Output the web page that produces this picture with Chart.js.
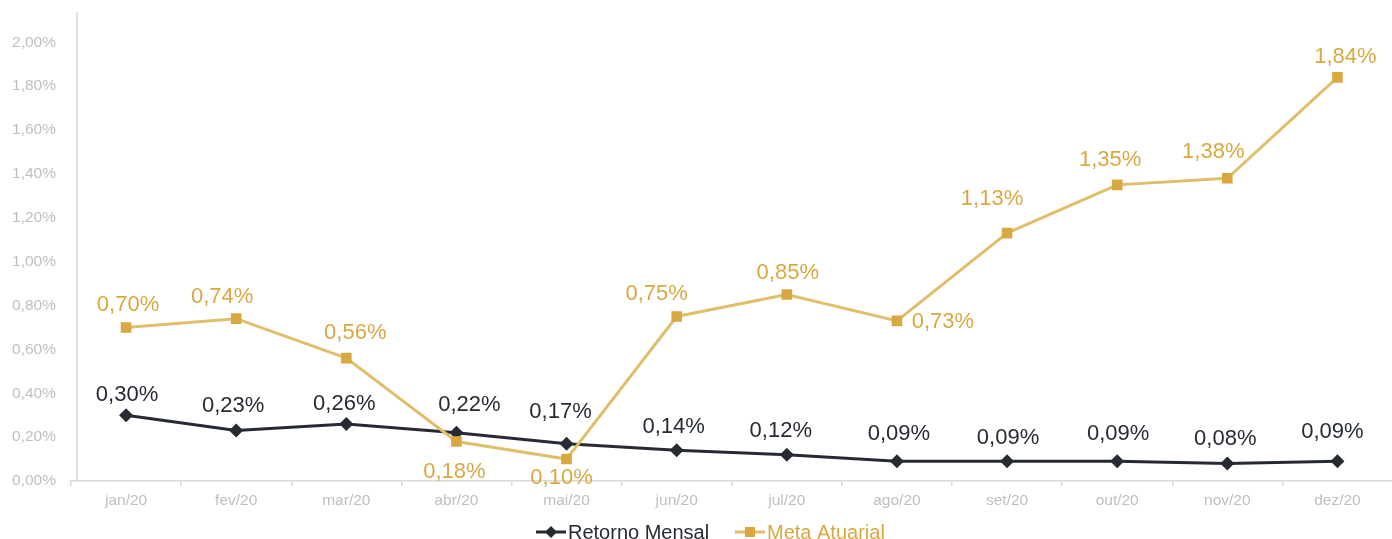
<!DOCTYPE html>
<html><head><meta charset="utf-8">
<script src="https://cdn.jsdelivr.net/npm/chart.js@4/dist/chart.umd.min.js"></script>
<style>
html,body{margin:0;padding:0;background:#fff;overflow:hidden;}
#c{position:absolute;left:0;top:0;width:1400px;height:539px;}
</style></head>
<body><canvas id="c" width="1400" height="539"></canvas>
<script>
const categories = ['jan/20','fev/20','mar/20','abr/20','mai/20','jun/20','jul/20','ago/20','set/20','out/20','nov/20','dez/20'];
const retornoMensal = [0.30,0.23,0.26,0.22,0.17,0.14,0.12,0.09,0.09,0.09,0.08,0.09];
const metaAtuarial = [0.70,0.74,0.56,0.18,0.10,0.75,0.85,0.73,1.13,1.35,1.38,1.84];
const yTickStep = 0.2;
const yMaxLabel = 2.0;
const yAxisMax = 2.082;

// label nudges (pixels) relative to each point
const retornoLabelDx = [1,-3,-2,13,-6,-3,-6,2,1,1,-2,-5];
const retornoLabelDy = [-20,-25,-20,-28,-32,-23,-24,-27,-23,-27,-25,-29];
const metaLabelDx = [2,-14,9,-2,-5,-20,1,46,-15,-7,-14,8];
const metaLabelDy = [-23,-22,-25,30,19,-23,-22,1,-34,-25,-26,-20];

const DARK = '#262b33';
const GOLD = '#d9a841';
const GOLD_LINE = '#e0bf6c';
const FONT = "'Liberation Sans', Arial, sans-serif";

const fmt = v => v.toFixed(2).replace('.', ',') + '%';

const labelPlugin = {
  id: 'pointLabels',
  afterDatasetsDraw(chart) {
    const ctx = chart.ctx;
    ctx.save();
    ctx.font = '22px ' + FONT;
    ctx.textAlign = 'center';
    ctx.textBaseline = 'middle';
    chart.data.datasets.forEach((ds, di) => {
      const meta = chart.getDatasetMeta(di);
      const dx = ds.labelDx, dy = ds.labelDy;
      ctx.fillStyle = ds.labelColor;
      meta.data.forEach((pt, i) => {
        ctx.fillText(fmt(ds.data[i]), pt.x + dx[i], pt.y + dy[i]);
      });
    });
    ctx.restore();
  }
};

const axisPlugin = {
  id: 'yLine',
  beforeDatasetsDraw(chart) {
    const ctx = chart.ctx, a = chart.chartArea;
    ctx.save();
    ctx.strokeStyle = '#d9d9d9';
    ctx.lineWidth = 1.5;
    ctx.beginPath();
    ctx.moveTo(a.left + 6, 12);
    ctx.lineTo(a.left + 6, a.bottom);
    ctx.stroke();
    ctx.restore();
  }
};

const legendPlugin = {
  id: 'customLegend',
  afterDraw(chart) {
    const ctx = chart.ctx;
    ctx.save();
    ctx.font = '20px ' + FONT;
    ctx.textBaseline = 'middle';
    const y = 532;
    const items = [
      {text: 'Retorno Mensal', color: DARK, line: DARK, style: 'diamond', x: 536},
      {text: 'Meta Atuarial', color: GOLD, line: GOLD_LINE, style: 'square', x: 735}
    ];
    items.forEach(it => {
      ctx.strokeStyle = it.line;
      ctx.lineWidth = 3;
      ctx.beginPath();
      ctx.moveTo(it.x, y);
      ctx.lineTo(it.x + 30, y);
      ctx.stroke();
      ctx.fillStyle = it.color;
      const cx = it.x + 15;
      if (it.style === 'diamond') {
        ctx.beginPath();
        ctx.moveTo(cx, y - 6); ctx.lineTo(cx + 6, y); ctx.lineTo(cx, y + 6); ctx.lineTo(cx - 6, y);
        ctx.closePath(); ctx.fill();
      } else {
        ctx.fillRect(cx - 5, y - 5, 10, 10);
      }
      ctx.fillStyle = it.color;
      ctx.textAlign = 'left';
      ctx.fillText(it.text, it.x + 32, y + 1);
    });
    ctx.restore();
  }
};

new Chart(document.getElementById('c'), {
  type: 'line',
  data: {
    labels: categories,
    datasets: [
      {
        label: 'Retorno Mensal', data: retornoMensal,
        borderColor: DARK, backgroundColor: DARK, borderWidth: 3,
        pointStyle: 'rectRot', pointRadius: 7, pointHoverRadius: 7,
        pointBackgroundColor: DARK, pointBorderColor: DARK, pointBorderWidth: 0,
        tension: 0,
        labelColor: DARK, labelDx: retornoLabelDx, labelDy: retornoLabelDy, order: 2
      },
      {
        label: 'Meta Atuarial', data: metaAtuarial,
        borderColor: GOLD_LINE, backgroundColor: GOLD, borderWidth: 3,
        pointStyle: 'rect', pointRadius: 7.5, pointHoverRadius: 7.5,
        pointBackgroundColor: GOLD, pointBorderColor: GOLD, pointBorderWidth: 0,
        tension: 0,
        labelColor: GOLD, labelDx: metaLabelDx, labelDy: metaLabelDy, order: 1
      }
    ]
  },
  options: {
    responsive: false, animation: false, devicePixelRatio: 1,
    layout: {padding: {top: 0, right: 2, left: 0, bottom: 0}},
    plugins: {legend: {display: false}, tooltip: {enabled: false}},
    scales: {
      x: {
        offset: true,
        grid: {offset: true, drawOnChartArea: false, drawTicks: true, tickLength: 5, color: '#d9d9d9', lineWidth: 1.5},
        border: {display: true, color: '#d9d9d9', width: 1.5},
        ticks: {color: '#bfbfbf', font: {family: FONT, size: 15.5}, padding: 5, maxRotation: 0, autoSkip: false},
        afterFit(s) { s.height = 58; }
      },
      y: {
        min: 0, max: yAxisMax,
        grid: {display: false, drawTicks: false},
        border: {display: false},
        ticks: {
          stepSize: yTickStep, color: '#bfbfbf', font: {family: FONT, size: 15.5}, padding: 15,
          callback: v => v > yMaxLabel + 0.001 ? '' : fmt(v)
        },
        afterFit(s) { s.width = 71; }
      }
    }
  },
  plugins: [axisPlugin, labelPlugin, legendPlugin]
});
</script>
</body></html>
